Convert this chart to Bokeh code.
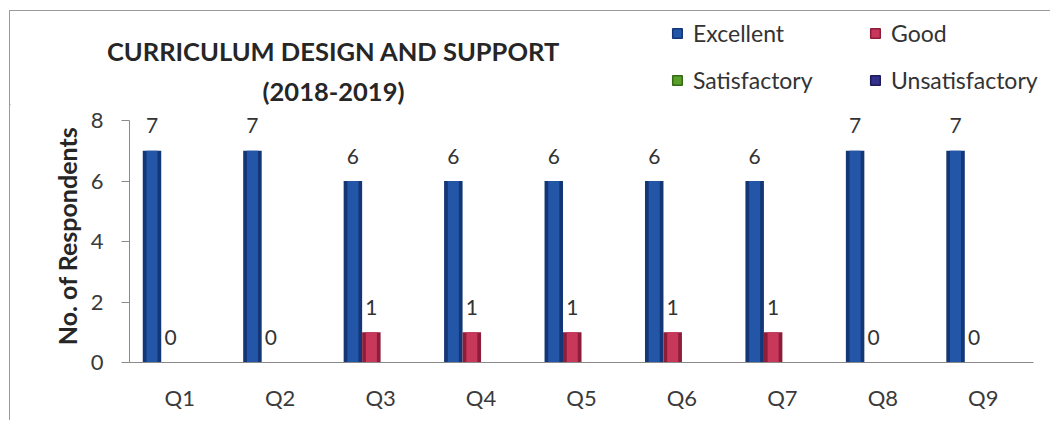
from bokeh.plotting import figure
from bokeh.layouts import column, row
from bokeh.models import FactorRange, Range1d, Legend, LegendItem, Label, ColumnDataSource
from bokeh.transform import dodge
from bokeh.core.properties import value
from bokeh.embed import file_html
from bokeh.resources import INLINE

questions = ["Q1", "Q2", "Q3", "Q4", "Q5", "Q6", "Q7", "Q8", "Q9"]
excellent = [7, 7, 6, 6, 6, 6, 6, 7, 7]
good = [0, 0, 1, 1, 1, 1, 1, 0, 0]
satisfactory = [0, 0, 0, 0, 0, 0, 0, 0, 0]
unsatisfactory = [0, 0, 0, 0, 0, 0, 0, 0, 0]
series_names = ["Excellent", "Good", "Satisfactory", "Unsatisfactory"]
y_ticks = [0, 2, 4, 6, 8]
title_lines = ["CURRICULUM DESIGN AND SUPPORT", "(2018-2019)"]
y_label = "No. of Respondents"

FONT = "Lato"
W = 1040
B_LEFT, B_RIGHT = 119, 17          # chart frame spans page x 129..1033
H_TOP = 94                          # header: page y 11..105
B_TOP = 4
FRAME_H, B_BOTTOM = 253, 58         # chart frame: page y 109..362
H_BOT = B_TOP + FRAME_H + B_BOTTOM
y_top = 8 * FRAME_H / 242.0         # 0..8 occupies 242 px

main_colors = ["#2456a8", "#c8385a", "#5a9e2c", "#33308a"]
edge_colors = ["#133676", "#8e1d3a", "#356a15", "#1c1a5a"]

# ---------- header (title + legend); x data units = page pixels ----------
top = figure(width=W, height=H_TOP, x_range=Range1d(10, 10 + W), y_range=Range1d(0, H_TOP),
             output_backend="svg", toolbar_location=None,
             x_axis_location=None, y_axis_location=None,
             min_border_left=0, min_border_right=0,
             min_border_top=0, min_border_bottom=0)
top.outline_line_color = None
top.xgrid.visible = False
top.ygrid.visible = False

for i, line in enumerate(title_lines):
    top.add_layout(Label(x=333, y=55 - i * 40, text=line, text_align="center",
                         text_baseline="middle", text_font=FONT, text_font_style="bold",
                         text_font_size="25.5px", text_color="#262626"))

items = []
for name, col, edge in zip(series_names, main_colors, edge_colors):
    # invisible legend proxy (outside the header's x range)
    holder = top.vbar(x=[0], top=[0], width=0, fill_color=col, line_color=edge, line_width=1.5)
    items.append(LegendItem(label=name, renderers=[holder]))

legend = Legend(items=items, location=(661, 11), orientation="horizontal", ncols=2,
                label_text_font=FONT, label_text_font_size="23px", label_text_color="#333333",
                glyph_width=12, glyph_height=12, label_standoff=10, spacing=19,
                label_width=157, padding=0, margin=0,
                border_line_alpha=0, background_fill_alpha=0)
top.add_layout(legend, "center")

# ---------- chart ----------
p = figure(x_range=FactorRange(*questions), y_range=Range1d(0, y_top),
           width=W, height=H_BOT, output_backend="svg", toolbar_location=None,
           min_border_left=B_LEFT, min_border_right=B_RIGHT,
           min_border_top=B_TOP, min_border_bottom=B_BOTTOM)
p.outline_line_color = None
p.xgrid.visible = False
p.ygrid.visible = False

offsets = [-0.276, -0.092, 0.092, 0.276]
series_values = [excellent, good, satisfactory, unsatisfactory]
show_labels = [True, True, False, False]

for name, vals, off, col, edge, show in zip(series_names, series_values, offsets,
                                             main_colors, edge_colors, show_labels):
    src = ColumnDataSource(dict(q=questions, v=vals, lbl=[str(v) for v in vals]))
    p.vbar(x=dodge("q", off, range=p.x_range), top="v", width=0.184, source=src,
           fill_color=edge, line_color=None)
    p.vbar(x=dodge("q", off, range=p.x_range), top="v", width=0.11, source=src,
           fill_color=col, line_color=None)
    if show:
        p.text(x=dodge("q", off, range=p.x_range), y="v", text="lbl", source=src,
               text_align="center", text_baseline="alphabetic", y_offset=-25,
               text_font=value(FONT), text_font_size="21px", text_color="#333333")

p.yaxis.ticker = y_ticks
p.yaxis.bounds = (0, 8)
p.yaxis.axis_label = y_label
p.yaxis.axis_label_text_font = FONT
p.yaxis.axis_label_text_font_style = "bold"
p.yaxis.axis_label_text_font_size = "25px"
p.yaxis.axis_label_text_color = "#262626"
p.yaxis.axis_label_standoff = 6
p.yaxis.major_tick_out = 8
p.yaxis.major_tick_in = 0
p.yaxis.minor_tick_line_color = None
p.yaxis.major_label_standoff = 18

p.xaxis.major_tick_line_color = None
p.xaxis.minor_tick_line_color = None
p.xaxis.major_label_standoff = 15

for ax in (p.xaxis, p.yaxis):
    ax.axis_line_color = "#8a8a8a"
    ax.major_label_text_font = FONT
    ax.major_label_text_font_size = "22px"
    ax.major_label_text_color = "#3a3a3a"
p.yaxis.major_tick_line_color = "#8a8a8a"

layout = column(row(top, spacing=0), p, spacing=0)
layout.styles = {"margin-left": "9px", "margin-top": "10px",
                 "border-left": "1px solid #9a9a9a", "border-top": "1px solid #9a9a9a"}

open("out.html", "w").write(file_html(layout, INLINE))
